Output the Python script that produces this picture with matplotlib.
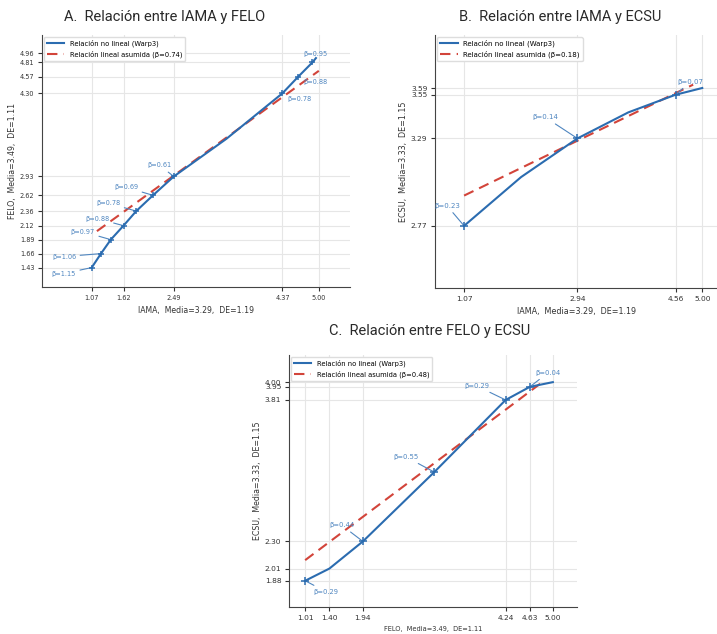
import matplotlib
matplotlib.use("Agg")
import matplotlib.pyplot as plt

# Panel A: IAMA -> FELO
a_x = [1.07, 1.23, 1.40, 1.62, 1.84, 2.13, 2.49, 3.40, 4.37, 4.64, 4.89, 4.95]
a_y = [1.43, 1.66, 1.89, 2.12, 2.36, 2.62, 2.93, 3.55, 4.30, 4.57, 4.81, 4.88]
a_marks = [0, 1, 2, 3, 4, 5, 6, 8, 9, 10]
a_beta = [1.15, 1.06, 0.97, 0.88, 0.78, 0.69, 0.61, 0.78, 0.88, 0.95]
a_lin_x = [1.16, 5.00]
a_lin_y = [2.03, 4.67]
a_xticks = [1.07, 1.62, 2.49, 4.37, 5.00]
a_yticks = [1.43, 1.66, 1.89, 2.12, 2.36, 2.62, 2.93, 4.30, 4.57, 4.81, 4.96]

# Panel B: IAMA -> ECSU
b_x = [1.07, 2.01, 2.94, 3.78, 4.56, 5.00]
b_y = [2.77, 3.06, 3.29, 3.445, 3.55, 3.59]
b_marks = [0, 2, 4]
b_beta = [0.23, 0.14, 0.07]
b_lin_x = [1.07, 4.85]
b_lin_y = [2.95, 3.61]
b_xticks = [1.07, 2.94, 4.56, 5.00]
b_yticks = [2.77, 3.29, 3.55, 3.59]

# Panel C: FELO -> ECSU
c_x = [1.01, 1.40, 1.94, 3.09, 4.24, 4.63, 5.00]
c_y = [1.88, 2.01, 2.30, 3.04, 3.81, 3.95, 4.00]
c_marks = [0, 2, 3, 4, 5]
c_beta = [0.29, 0.44, 0.55, 0.29, 0.04]
c_lin_x = [1.01, 4.85]
c_lin_y = [2.10, 4.01]
c_xticks = [1.01, 1.40, 1.94, 4.24, 4.63, 5.00]
c_yticks = [1.88, 2.01, 2.30, 3.81, 3.95, 4.00]

blue = "#2b6cb0"
red = "#d2443a"
txt_blue = "#4f86c0"

fig = plt.figure(figsize=(7.17, 6.34), dpi=100)


def panel(rect, x, y, marks, betas, offsets, lin_x, lin_y, beta_lin,
          xticks, yticks, xlim, ylim, xlabel, ylabel, fs, ms):
    # fs = (ticks, xlabel, ylabel, legend, annotations)
    ax = fig.add_axes(rect)
    ax.plot(x, y, color=blue, lw=1.5, label="Relación no lineal (Warp3)", zorder=3)
    ax.plot([x[i] for i in marks], [y[i] for i in marks], ls="none",
            marker="+", ms=ms, mew=1.1, color=blue, zorder=4)
    ax.plot(lin_x, lin_y, color=red, lw=1.5, ls=(0, (5, 3)),
            label="Relación lineal asumida (β=%.2f)" % beta_lin, zorder=2)
    for i, b, off in zip(marks, betas, offsets):
        ax.annotate("β=%.2f" % b, (x[i], y[i]), xytext=off,
                    textcoords="offset pixels", ha="center", va="center",
                    fontsize=fs[4], color=txt_blue,
                    arrowprops=dict(arrowstyle="-", color=txt_blue, lw=0.8,
                                    shrinkA=1, shrinkB=0))
    ax.set_xticks(xticks)
    ax.set_xticklabels(["%.2f" % v for v in xticks])
    ax.set_yticks(yticks)
    ax.set_yticklabels(["%.2f" % v for v in yticks])
    ax.set_xlim(xlim)
    ax.set_ylim(ylim)
    ax.tick_params(labelsize=fs[0], length=3, colors="#333333", pad=2.5)
    ax.grid(True, color="#e6e6e6", lw=0.8)
    ax.set_axisbelow(True)
    for s in ["top", "right"]:
        ax.spines[s].set_visible(False)
    for s in ["left", "bottom"]:
        ax.spines[s].set_color("#444444")
    ax.set_xlabel(xlabel, fontsize=fs[1], color="#333333")
    ax.set_ylabel(ylabel, fontsize=fs[2], color="#333333", labelpad=2)
    ax.legend(loc="upper left", fontsize=fs[3], frameon=True, framealpha=1,
              edgecolor="#dddddd", handlelength=2.6, borderaxespad=0.3)
    return ax


panel([0.0586, 0.5473, 0.4296, 0.3975], a_x, a_y, a_marks, a_beta,
      [(-28, -6), (-37, -3), (-28, 8), (-26, 7), (-28, 8), (-27, 8),
       (-14, 11), (17, -6), (17, -5), (3, 8)],
      a_lin_x, a_lin_y, 0.74, a_xticks, a_yticks, (0.21, 5.54), (1.11, 5.26),
      "IAMA,  Media=3.29,  DE=1.19", "FELO,  Media=3.49,  DE=1.11",
      (4.7, 5.6, 5.6, 4.9, 4.7), 5)

panel([0.6067, 0.5457, 0.3947, 0.399], b_x, b_y, b_marks, b_beta,
      [(-17, 20), (-32, 21), (15, 13)],
      b_lin_x, b_lin_y, 0.18, b_xticks, b_yticks, (0.59, 5.26), (2.40, 3.905),
      "IAMA,  Media=3.29,  DE=1.19", "ECSU,  Media=3.33,  DE=1.15",
      (5.4, 5.8, 5.8, 5.0, 5.0), 6)

panel([0.4031, 0.0426, 0.4017, 0.3975], c_x, c_y, c_marks, c_beta,
      [(21, -11), (-21, 16), (-28, 15), (-29, 14), (18, 14)],
      c_lin_x, c_lin_y, 0.48, c_xticks, c_yticks, (0.75, 5.39), (1.60, 4.29),
      "FELO,  Media=3.49,  DE=1.11", "ECSU,  Media=3.33,  DE=1.15",
      (5.4, 4.8, 5.7, 4.9, 4.9), 6)

title_font = dict(family=["Roboto", "DejaVu Sans"], fontweight="normal",
                  fontsize=10.5, color="#2a2a2a", ha="center", va="center")
fig.text(165 / 717, 1 - 17 / 634, "A.  Relación entre IAMA y FELO", **title_font)
fig.text(560 / 717, 1 - 17 / 634, "B.  Relación entre IAMA y ECSU", **title_font)
fig.text(430 / 717, 1 - 331 / 634, "C.  Relación entre FELO y ECSU", **title_font)

fig.savefig("out.png", dpi=100)
